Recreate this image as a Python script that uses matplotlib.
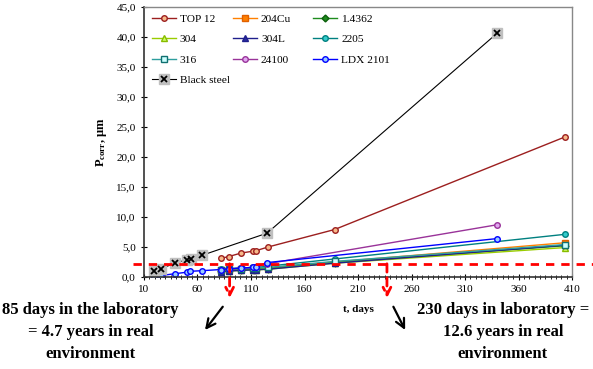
import matplotlib
matplotlib.use("Agg")
import matplotlib.pyplot as plt
from matplotlib.legend import Legend
from matplotlib.ticker import MultipleLocator, FixedLocator
from matplotlib.transforms import blended_transform_factory
from matplotlib.legend_handler import HandlerTuple

plt.rcParams["font.family"] = ["Liberation Serif", "DejaVu Serif"]
plt.rcParams["mathtext.fontset"] = "custom"
plt.rcParams["mathtext.rm"] = "Liberation Serif"
plt.rcParams["mathtext.bf"] = "Liberation Serif:bold"

# Data
days_early = [19, 26, 39, 50, 54, 64, 125, 340]
black_steel = [1.0, 1.4, 2.3, 2.9, 3.0, 3.6, 7.3, 40.6]

days_ldx = [19, 26, 39, 50, 53, 64, 82, 89, 101, 112, 115, 125, 340]
ldx_2101 = [0.0, 0.25, 0.55, 0.8, 0.95, 1.05, 1.25, 1.35, 1.5, 1.6, 1.7, 2.4, 6.4]

days_24100 = [82, 89, 101, 112, 115, 125, 340]
s24100 = [1.2, 1.3, 1.5, 1.6, 1.7, 2.2, 8.7]

days_main = [82, 89, 101, 112, 115, 126, 188, 403]
top12 = [3.1, 3.4, 4.0, 4.3, 4.4, 5.0, 7.9, 23.3]
s2205 = [1.3, 1.4, 1.5, 1.6, 1.6, 1.8, 3.0, 7.1]
s316 = [1.2, 1.3, 1.4, 1.5, 1.5, 1.6, 2.6, 5.4]
s204cu = [1.1, 1.2, 1.3, 1.4, 1.4, 1.5, 2.5, 5.7]
s14362 = [1.0, 1.1, 1.2, 1.3, 1.3, 1.4, 2.4, 5.2]
s304 = [1.0, 1.0, 1.1, 1.2, 1.2, 1.3, 2.3, 4.9]
s304l = [0.9, 1.0, 1.1, 1.2, 1.2, 1.3, 2.3, 5.3]

threshold = 2.2
lab_days = [90, 237]

fig = plt.figure(figsize=(5.93, 3.69), dpi=100)
ax = fig.add_axes([0.2428, 0.2493, 0.722, 0.7325])

ms = 4
h = {}
h["TOP 12"], = ax.plot(days_main, top12, "-o", color="#9C1F1F", mfc="#F7B98A", mec="#9C1F1F", ms=ms, lw=1)
h["204Cu"], = ax.plot(days_main, s204cu, "-s", color="#FF8000", mfc="#FF8000", mec="#E06000", ms=ms, lw=1)
h["1.4362"], = ax.plot(days_main, s14362, "-D", color="#1E8C1E", mfc="#1E8C1E", mec="#0B5E0B", ms=3.5, lw=1)
h["304"], = ax.plot(days_main, s304, "-^", color="#99CC00", mfc="#CCFF66", mec="#88BB00", ms=ms, lw=1)
h["304L"], = ax.plot(days_main, s304l, "-^", color="#1F1F8C", mfc="#2A2AA0", mec="#1F1F8C", ms=ms, lw=1)
h["2205"], = ax.plot(days_main, s2205, "-o", color="#008080", mfc="#33CCCC", mec="#008080", ms=ms, lw=1)
h["316"], = ax.plot(days_main, s316, "-s", color="#2E9E9E", mfc="#CCFFFF", mec="#107070", ms=ms, lw=1)
h["24100"], = ax.plot(days_24100, s24100, "-o", color="#993399", mfc="#E0A8F0", mec="#993399", ms=ms, lw=1)
h["LDX 2101"], = ax.plot(days_ldx, ldx_2101, "-o", color="#0000FF", mfc="#99CCFF", mec="#0000FF", ms=ms, lw=1)
bs_sq, = ax.plot(days_early, black_steel, "-s", color="black", mfc="#BFBFBF", mec="#BFBFBF", ms=6.5, lw=0.8)
bs_x, = ax.plot(days_early, black_steel, "x", color="black", ms=4.5, mew=1.3)
h["Black steel"] = (bs_sq, bs_x)

# Legend: three equally spaced columns, like the spreadsheet original
legend_cols = [["TOP 12", "304", "316", "Black steel"],
               ["204Cu", "304L", "24100"],
               ["1.4362", "2205", "LDX 2101"]]
col_x = [0.0187, 0.208, 0.395]
for names, x in zip(legend_cols, col_x):
    leg = Legend(ax, [h[n] for n in names], names, loc="upper left",
                 bbox_to_anchor=(x, 0.974), frameon=False, fontsize=8.2,
                 handlelength=2.1, handletextpad=0.35, labelspacing=0.92,
                 borderpad=0, borderaxespad=0,
                 handler_map={tuple: HandlerTuple(ndivide=1)})
    ax.add_artist(leg)

# Axes and ticks
ax.set_xlim(10, 410)
ax.set_ylim(0, 45)
ax.xaxis.set_major_locator(FixedLocator(range(10, 411, 50)))
ax.xaxis.set_minor_locator(MultipleLocator(5))
ax.yaxis.set_major_locator(MultipleLocator(5))
ax.set_yticklabels([f"{v:.1f}".replace(".", ",") for v in ax.get_yticks()])
ax.tick_params(axis="both", labelsize=8, direction="inout", length=5, width=0.8)
ax.tick_params(axis="x", which="minor", direction="inout", length=3, width=0.6)
for s in ["left", "bottom"]:
    ax.spines[s].set_color("#333333")
    ax.spines[s].set_linewidth(1.2)
for s in ["top", "right"]:
    ax.spines[s].set_color("#888888")
    ax.spines[s].set_linewidth(1.0)

ax.set_xlabel("t, days", fontsize=8, fontweight="bold")
ax.set_ylabel(r"$\mathbf{P_{corr}}$, µm", fontsize=9, fontweight="bold")
ax.xaxis.set_label_coords(0.5, -0.105)
ax.yaxis.set_label_coords(-0.082, 0.5)

# Threshold line and laboratory day markers
trans = blended_transform_factory(ax.transAxes, ax.transData)
ax.plot([-0.026, 1.05], [threshold, threshold], "--", color="red", lw=2,
        dashes=(3, 2.5), transform=trans, clip_on=False, zorder=5)
for d in lab_days:
    ax.annotate("", xy=(d, -0.078), xycoords=("data", "axes fraction"),
                xytext=(d, threshold), textcoords="data",
                arrowprops=dict(arrowstyle="->", color="red", lw=2,
                                linestyle=(0, (3, 2)), mutation_scale=14,
                                shrinkA=0, shrinkB=0),
                annotation_clip=False)

# Black pointer arrows
for start, end in [((0.184, -0.11), (0.1425, -0.196)), ((0.5825, -0.11), (0.61, -0.196))]:
    ax.annotate("", xy=end, xycoords="axes fraction", xytext=start,
                textcoords="axes fraction",
                arrowprops=dict(arrowstyle="->", color="black", lw=1.6,
                                mutation_scale=16, shrinkA=0, shrinkB=0),
                annotation_clip=False)

fig.text(0.153, 0.10, "85 days in the laboratory\n= 4.7 years in real\nenvironment",
         ha="center", va="center", fontsize=12, fontweight="bold", linespacing=1.5)
fig.text(0.848, 0.10, "230 days in laboratory =\n12.6 years in real\nenvironment",
         ha="center", va="center", fontsize=12, fontweight="bold", linespacing=1.5)

fig.savefig("out.png", dpi=100)
